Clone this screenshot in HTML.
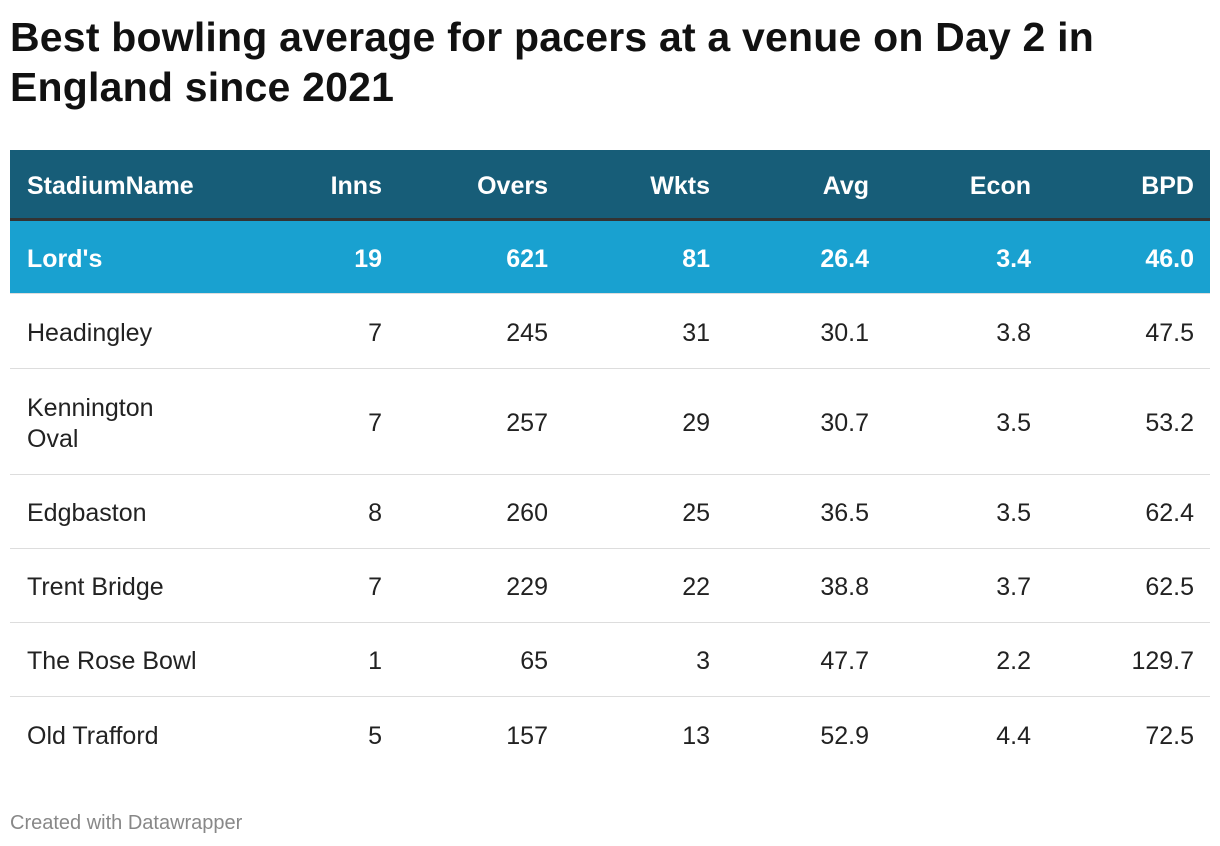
<!DOCTYPE html>
<html><head><meta charset="utf-8">
<style>
body{margin:0;width:1220px;height:846px;background:#fff;font-family:"Liberation Sans",Arial,sans-serif;color:#222;position:relative;overflow:hidden}
h1{position:absolute;left:10px;top:12px;margin:0;font-size:41px;line-height:50px;font-weight:bold;color:#111;width:1100px;letter-spacing:0.2px}
#tbl{position:absolute;left:10px;top:150px;width:1200px}
.row{position:absolute;left:0;width:1200px;border-bottom:1px solid #ddd}
.row.last{border-bottom:none}
.cell{position:absolute;top:2px;height:100%;display:flex;align-items:center;font-size:25px;line-height:31px}
.hdr{background:#175d78;color:#fff;font-weight:bold;border-bottom:3px solid #333}
.hl{background:#19a1d0;color:#fff;font-weight:bold;border-bottom:1px solid #ddd}
.foot{position:absolute;left:10px;top:812px;font-size:20px;color:#888}
</style></head><body>
<h1>Best bowling average for pacers at a venue on Day 2 in England since 2021</h1>
<div id="tbl"></div>
<div class="foot">Created with Datawrapper</div>
<script>
const headers=["StadiumName","Inns","Overs","Wkts","Avg","Econ","BPD"];
const stadiums=["Lord's","Headingley","Kennington<br>Oval","Edgbaston","Trent Bridge","The Rose Bowl","Old Trafford"];
const inns=["19","7","7","8","7","1","5"];
const overs=["621","245","257","260","229","65","157"];
const wkts=["81","31","29","25","22","3","13"];
const avg=["26.4","30.1","30.7","36.5","38.8","47.7","52.9"];
const econ=["3.4","3.8","3.5","3.5","3.7","2.2","4.4"];
const bpd=["46.0","47.5","53.2","62.4","62.5","129.7","72.5"];
const rights=[372,538,700,859,1021,1184];
const tops=[0,71,144,219,325,399,473,547];
const heights=[68,72,74,105,73,73,73,74];
const tbl=document.getElementById('tbl');
function mkRow(vals,idx,cls){
  const r=document.createElement('div');
  r.className='row '+cls;
  
  
  r.style.top=tops[idx]+'px';r.style.height=heights[idx]+'px';
  vals.forEach((v,i)=>{
    const c=document.createElement('div');c.className='cell';
    
    
    c.innerHTML=v;
    if(i===0){c.style.left='17px';}
    else{c.style.right=(1200-rights[i-1])+'px';}
    r.appendChild(c);
  });
  tbl.appendChild(r);
}
mkRow(headers,0,'hdr');
for(let k=0;k<stadiums.length;k++){
  mkRow([stadiums[k],inns[k],overs[k],wkts[k],avg[k],econ[k],bpd[k]],k+1,k===0?'hl':(k===stadiums.length-1?'last':''));
}
</script>
</body></html>
